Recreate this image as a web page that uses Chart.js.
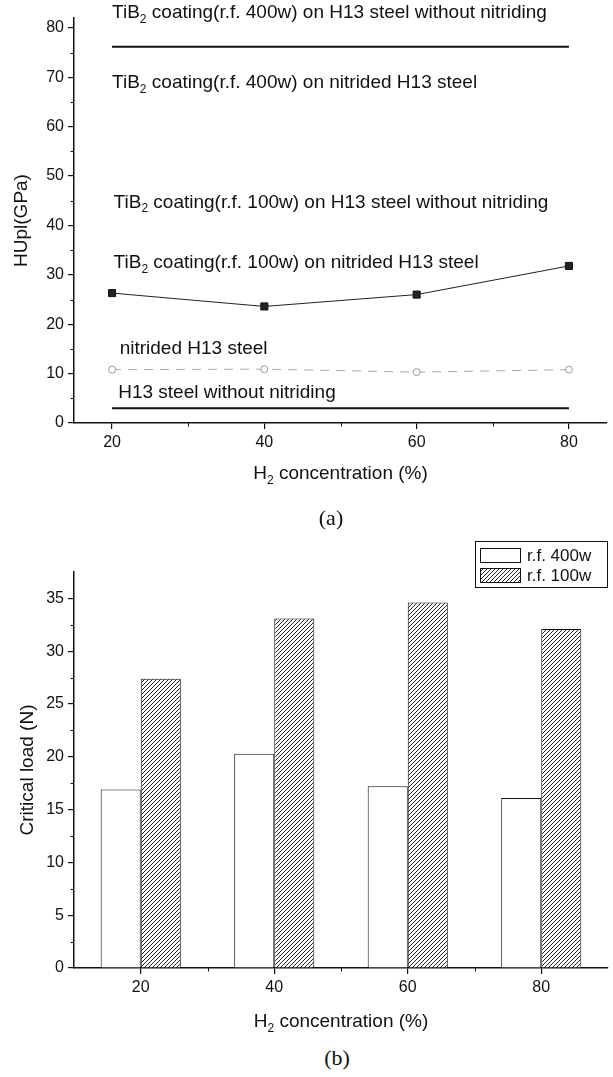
<!DOCTYPE html>
<html>
<head>
<meta charset="utf-8">
<script src="https://cdn.jsdelivr.net/npm/chart.js@4.4.1/dist/chart.umd.min.js"></script>
<style>
  body { margin: 0; background: #fff; width: 613px; height: 1077px; position: relative; overflow: hidden; }
  .box { position: absolute; left: 0; width: 613px; }
  #boxA { top: 0; height: 500px; }
  #boxB { top: 520px; height: 520px; }
  .cap { position: absolute; font-family: "Liberation Serif", "Times New Roman", serif; font-size: 22px; color: #111; transform: translateX(-50%); }
</style>
</head>
<body>
<div class="box" id="boxA"><canvas id="chartA" width="613" height="500"></canvas></div>
<div class="box" id="boxB"><canvas id="chartB" width="613" height="520"></canvas></div>
<div class="cap" style="left:331px; top:505px;">(a)</div>
<div class="cap" style="left:337px; top:1045px;">(b)</div>
<script>
// H2 concentration (%) - shared by both plots
const h2Conc = [20, 40, 60, 80];

// (a) HUpl (GPa)
const coat400Plain = [76.2, 76.2, 76.2, 76.2];
const coat100Nitrided = [26.3, 23.6, 26.0, 31.8];
const steelNitrided = [10.8, 10.9, 10.3, 10.8];
const steelPlain = [3.0, 3.0, 3.0, 3.0];
const hardTicks = [0, 10, 20, 30, 40, 50, 60, 70, 80];
const curveNames = [
  "TiB_2 coating(r.f. 400w) on H13 steel without nitriding",
  "TiB_2 coating(r.f. 400w) on nitrided H13 steel",
  "TiB_2 coating(r.f. 100w) on H13 steel without nitriding",
  "TiB_2 coating(r.f. 100w) on nitrided H13 steel",
  "nitrided H13 steel",
  "H13 steel without nitriding"
];

// (b) critical load (N)
const seriesNames = ["r.f. 400w", "r.f. 100w"];
const load400 = [16.9, 20.3, 17.2, 16.1];
const load100 = [27.4, 33.1, 34.6, 32.1];
const loadTicks = [0, 5, 10, 15, 20, 25, 30, 35];

const FONT = '"Liberation Sans", Arial, sans-serif';
Chart.defaults.font.family = FONT;
Chart.defaults.color = "#111";

// text with "_2" style subscripts
function richWidth(ctx, str, size) {
  const parts = str.split("_");
  ctx.font = size + "px " + FONT;
  let w = ctx.measureText(parts[0]).width;
  for (let i = 1; i < parts.length; i++) {
    ctx.font = Math.round(size * 0.65) + "px " + FONT;
    w += ctx.measureText(parts[i][0]).width;
    ctx.font = size + "px " + FONT;
    w += ctx.measureText(parts[i].slice(1)).width;
  }
  return w;
}
function drawRich(ctx, str, x, y, size) {
  const parts = str.split("_");
  ctx.font = size + "px " + FONT;
  ctx.fillText(parts[0], x, y);
  x += ctx.measureText(parts[0]).width;
  for (let i = 1; i < parts.length; i++) {
    const sub = parts[i][0], rest = parts[i].slice(1);
    ctx.font = Math.round(size * 0.65) + "px " + FONT;
    ctx.fillText(sub, x, y + size * 0.25);
    x += ctx.measureText(sub).width;
    ctx.font = size + "px " + FONT;
    ctx.fillText(rest, x, y);
    x += ctx.measureText(rest).width;
  }
}

// short ticks between the labelled ones
const minorTicks = {
  id: "minorTicks",
  afterDraw(chart, args, opts) {
    const ctx = chart.ctx, area = chart.chartArea;
    ctx.save();
    ctx.strokeStyle = "#111";
    ctx.lineWidth = 1;
    (opts.x || []).forEach(v => {
      const px = Math.round(chart.scales.x.getPixelForValue(v)) + 0.5;
      ctx.beginPath(); ctx.moveTo(px, area.bottom); ctx.lineTo(px, area.bottom + 3.5); ctx.stroke();
    });
    (opts.y || []).forEach(v => {
      const py = Math.round(chart.scales.y.getPixelForValue(v)) + 0.5;
      ctx.beginPath(); ctx.moveTo(area.left, py); ctx.lineTo(area.left - 3.5, py); ctx.stroke();
    });
    ctx.restore();
  }
};

// x axis title with subscript
const xTitle = {
  id: "xTitle",
  afterDraw(chart, args, opts) {
    const ctx = chart.ctx, area = chart.chartArea;
    ctx.save();
    ctx.fillStyle = "#111";
    ctx.textBaseline = "alphabetic";
    const w = richWidth(ctx, opts.text, opts.size);
    drawRich(ctx, opts.text, (area.left + area.right) / 2 - w / 2, opts.y, opts.size);
    ctx.restore();
  }
};

// curve names written inside plot (a)
const curveLabels = {
  id: "curveLabels",
  afterDraw(chart, args, opts) {
    const ctx = chart.ctx;
    ctx.save();
    ctx.fillStyle = "#111";
    ctx.textBaseline = "alphabetic";
    curveNames.forEach((name, i) => {
      const [vx, vy] = opts.anchors[i];
      drawRich(ctx, name, chart.scales.x.getPixelForValue(vx), chart.scales.y.getPixelForValue(vy), opts.size);
    });
    ctx.restore();
  }
};

// boxed legend for plot (b)
const boxLegend = {
  id: "boxLegend",
  afterDraw(chart, args, opts) {
    const ctx = chart.ctx;
    const [x0, y0, w, h] = opts.box;
    ctx.save();
    ctx.strokeStyle = "#111";
    ctx.lineWidth = 1;
    ctx.strokeRect(x0 + 0.5, y0 + 0.5, w, h);
    ctx.font = opts.size + "px " + FONT;
    ctx.textBaseline = "middle";
    chart.data.datasets.forEach((ds, i) => {
      const cy = y0 + opts.rows[i];
      ctx.fillStyle = ds.backgroundColor;
      ctx.fillRect(x0 + 5, cy - 7, 40, 14);
      ctx.strokeRect(x0 + 5.5, cy - 6.5, 40, 14);
      ctx.fillStyle = "#111";
      ctx.fillText(ds.label, x0 + 52, cy + 1);
    });
    ctx.restore();
  }
};

function hatch() {
  const s = 4;
  const c = document.createElement("canvas");
  c.width = c.height = s;
  const g = c.getContext("2d");
  g.fillStyle = "#fff";
  g.fillRect(0, 0, s, s);
  g.strokeStyle = "#222";
  g.lineWidth = 1;
  g.beginPath();
  g.moveTo(0, s); g.lineTo(s, 0);
  g.moveTo(-1, 1); g.lineTo(1, -1);
  g.moveTo(s - 1, s + 1); g.lineTo(s + 1, s - 1);
  g.stroke();
  return g.createPattern(c, "repeat");
}

const pts = arr => h2Conc.map((x, i) => ({ x, y: arr[i] }));

const axisBorder = { display: true, color: "#111", width: 1.5 };
const tickGrid = { drawOnChartArea: false, drawTicks: true, tickLength: 6, color: "#111", lineWidth: 1.2 };

new Chart(document.getElementById("chartA"), {
  type: "line",
  data: {
    datasets: [
      { data: pts(coat400Plain), borderColor: "#111", borderWidth: 2, pointRadius: 0 },
      { data: pts(coat100Nitrided), borderColor: "#222", borderWidth: 1, pointStyle: "rect", pointRadius: 5,
        pointBackgroundColor: "#222", pointBorderColor: "#111" },
      { data: pts(steelNitrided), borderColor: "#aaa", borderWidth: 1, borderDash: [9, 7], pointStyle: "circle",
        pointRadius: 3.5, pointBackgroundColor: "#fff", pointBorderColor: "#999" },
      { data: pts(steelPlain), borderColor: "#111", borderWidth: 2, pointRadius: 0 }
    ]
  },
  options: {
    responsive: false,
    animation: false,
    layout: { padding: { top: 18, right: 4, left: 0, bottom: 0 } },
    plugins: {
      legend: { display: false },
      tooltip: { enabled: false },
      minorTicks: { x: [30, 50, 70], y: [5, 15, 25, 35, 45, 55, 65, 75] },
      xTitle: { text: "H_2 concentration (%)", size: 19, y: 479 },
      curveLabels: {
        size: 19,
        anchors: [[20, 82.0], [20, 67.8], [20.2, 43.6], [20.2, 31.3], [21.0, 13.9], [20.8, 5.05]]
      }
    },
    scales: {
      x: {
        type: "linear", min: 15, max: 85,
        afterBuildTicks: s => { s.ticks = h2Conc.map(v => ({ value: v })); },
        afterFit: s => { s.height = 77; },
        border: axisBorder, grid: tickGrid,
        ticks: { font: { size: 16 }, padding: 4, maxRotation: 0 }
      },
      y: {
        min: 0, max: 82,
        afterBuildTicks: s => { s.ticks = hardTicks.map(v => ({ value: v })); },
        afterFit: s => { s.width = 74; },
        border: axisBorder, grid: tickGrid,
        ticks: { font: { size: 16 }, padding: 4 },
        title: { display: true, text: "HUpl(GPa)", font: { size: 19 }, padding: { top: 10 } }
      }
    }
  },
  plugins: [minorTicks, xTitle, curveLabels]
});

new Chart(document.getElementById("chartB"), {
  type: "bar",
  data: {
    labels: h2Conc.map(String),
    datasets: [
      { label: seriesNames[0], data: load400, backgroundColor: "#fff", borderColor: "#111", borderWidth: 1 },
      { label: seriesNames[1], data: load100, backgroundColor: hatch(), borderColor: "#111", borderWidth: 1 }
    ]
  },
  options: {
    responsive: false,
    animation: false,
    layout: { padding: { top: 52, right: 5, left: 0, bottom: 0 } },
    datasets: { bar: { categoryPercentage: 0.6, barPercentage: 1.0 } },
    plugins: {
      legend: { display: false },
      tooltip: { enabled: false },
      minorTicks: { x: [0.5, 1.5, 2.5], y: [2.5, 7.5, 12.5, 17.5, 22.5, 27.5, 32.5] },
      xTitle: { text: "H_2 concentration (%)", size: 19, y: 507 },
      boxLegend: { box: [475, 21, 132, 46], rows: [14, 34], size: 17 }
    },
    scales: {
      x: {
        afterFit: s => { s.height = 72; },
        border: axisBorder, grid: Object.assign({}, tickGrid, { offset: false }),
        ticks: { font: { size: 16 }, padding: 4, maxRotation: 0 }
      },
      y: {
        min: 0, max: 37.5,
        afterBuildTicks: s => { s.ticks = loadTicks.map(v => ({ value: v })); },
        afterFit: s => { s.width = 74; },
        border: axisBorder, grid: tickGrid,
        ticks: { font: { size: 16 }, padding: 4 },
        title: { display: true, text: "Critical load (N)", font: { size: 19 }, padding: { top: 16 } }
      }
    }
  },
  plugins: [minorTicks, xTitle, boxLegend]
});
</script>
</body>
</html>
